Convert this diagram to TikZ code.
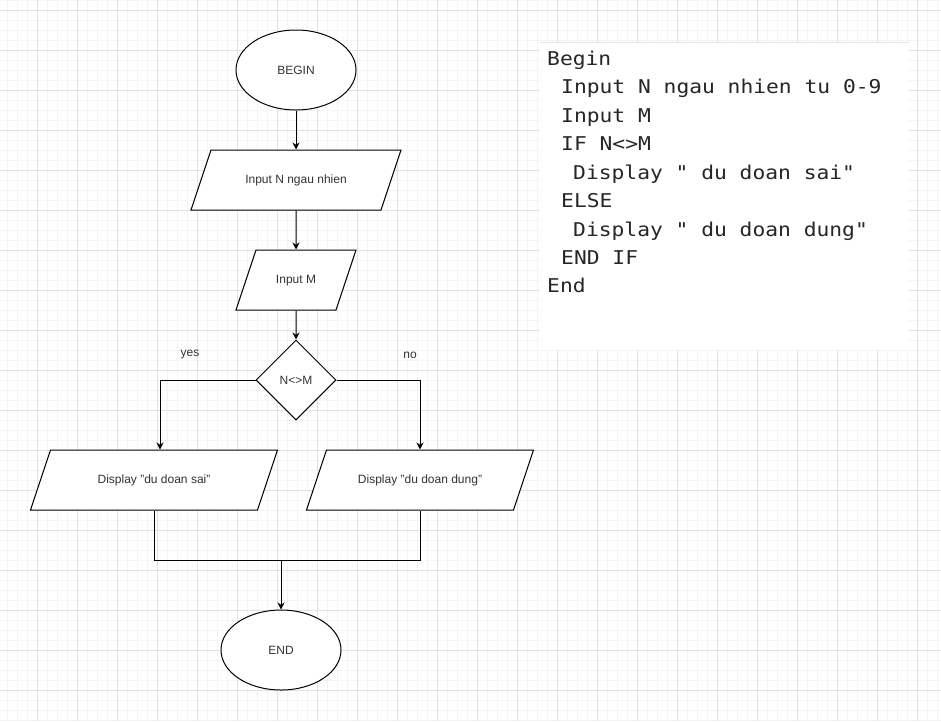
\documentclass[tikz,border=0pt]{standalone}
\usepackage{fontspec}
\setmainfont{Liberation Sans}
\newfontfamily\codefont[FakeStretch=1.12]{DejaVu Sans Mono}
\usetikzlibrary{shapes.geometric,arrows.meta}
\definecolor{gridminor}{HTML}{F4F4F4}
\definecolor{gridmajor}{HTML}{E2E2E2}
\definecolor{txt}{HTML}{333333}
\begin{document}
\begin{tikzpicture}[x=1pt,y=-1pt,
  base/.style={draw=black, line width=1pt, fill=white, font=\fontsize{12}{14}\selectfont, text=txt, inner sep=0pt},
  term/.style={base, ellipse, minimum width=120pt, minimum height=80pt},
  io/.style={base, trapezium, trapezium left angle=71.565, trapezium right angle=108.435, trapezium stretches body, text height=9pt, text depth=3pt, inner xsep=0pt, inner ysep=24pt},
  dec/.style={base, diamond, minimum width=80pt, minimum height=80pt, aspect=1},
  flow/.style={line width=1pt, -{Stealth[length=7pt,width=7pt]}},
  plain/.style={line width=1pt},
  lbl/.style={font=\fontsize{12}{14}\selectfont, text=txt, inner sep=0pt},
  code/.style={anchor=base west, inner sep=0pt, font=\codefont\fontsize{19}{22}\selectfont, text=black!85}
]
\useasboundingbox (0,0) rectangle (941,721);
\fill[white] (0,0) rectangle (941,721);
% grid
\foreach \x in {7,17,...,937} \draw[gridminor, line width=1pt] (\x,0) -- (\x,721);
\foreach \y in {0,10,...,720} \draw[gridminor, line width=1pt] (0,\y) -- (941,\y);
\foreach \x in {37,77,...,917} \draw[gridmajor, line width=1pt] (\x,0) -- (\x,721);
\foreach \y in {10,50,...,690} \draw[gridmajor, line width=1pt] (0,\y) -- (941,\y);
% code block
\fill[white] (540,42) rectangle (909,350);
\draw[black!10, line width=1.5pt] (540,42.5) -- (909,42.5);
\node[code] (c0) at (547,65.2) {Begin};
\node[code] (c1) at (561,93.7) {Input N ngau nhien tu 0-9};
\node[code] (c2) at (561,122.1) {Input M};
\node[code] (c3) at (561,150.6) {IF N<>M};
\node[code] (c4) at (573,179.0) {Display " du doan sai"};
\node[code] (c5) at (561,207.5) {ELSE};
\node[code] (c6) at (573,236.0) {Display " du doan dung"};
\node[code] (c7) at (561,264.4) {END IF};
\node[code] (c8) at (547,292.9) {End};
% flowchart
\node[term] (begin) at (296,70) {BEGIN};
\node[io, minimum width=210pt] (inN) at (296,180) {Input N ngau nhien};
\node[io, minimum width=120pt] (inM) at (296,280) {Input M};
\node[dec] (d) at (296,380) {N<>M};
\node[io, minimum width=247pt] (sai) at (154,480) {Display "du doan sai"};
\node[io, minimum width=227pt] (dung) at (420,480) {Display "du doan dung"};
\node[term] (end) at (281,650) {END};
\node[lbl] (yes) at (190,355) {yes};
\node[lbl] (no) at (410,355) {no};
\draw[flow] (begin.south) -- (inN.north);
\draw[flow] (inN.south) -- (inM.north);
\draw[flow] (inM.south) -- (d.north);
\draw[flow] (d.west) -| ([xshift=6pt]sai.north);
\draw[flow] (d.east) -| (dung.north);
\coordinate (m) at (281,560);
\draw[plain] (sai.south) |- (m) -| (dung.south);
\draw[flow] (m) -- (end.north);
\end{tikzpicture}
\end{document}
